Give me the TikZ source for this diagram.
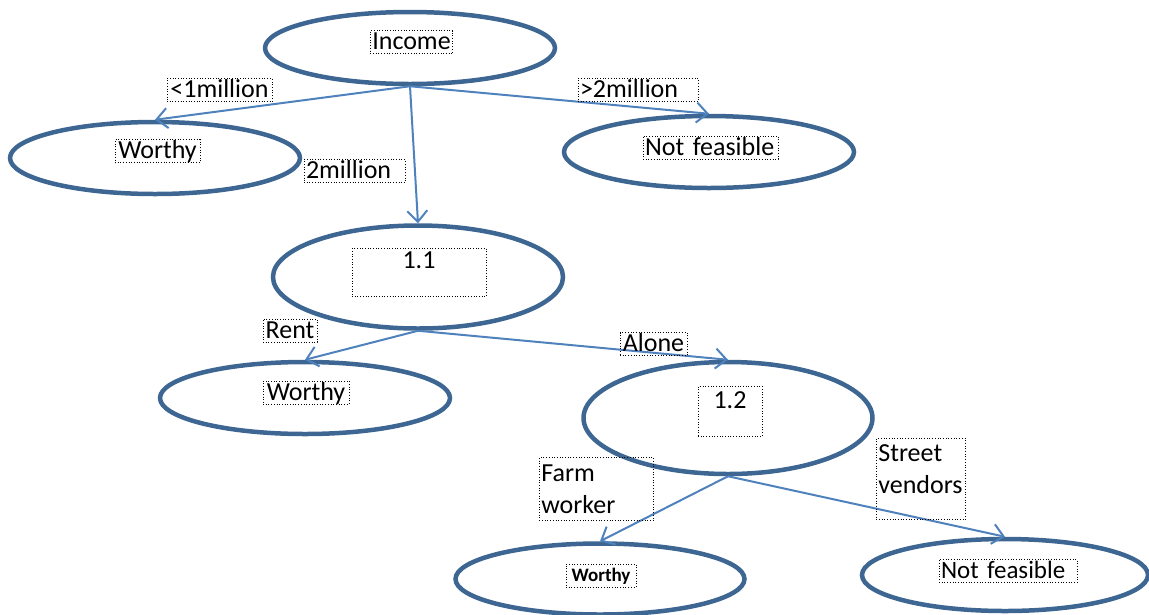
\documentclass[tikz,border=0pt]{standalone}
\usepackage{fontspec}
\setmainfont{Carlito}
\usetikzlibrary{shapes.geometric,arrows.meta}
\definecolor{ovalblue}{HTML}{3D6692}
\definecolor{edgeblue}{HTML}{4F81BD}

\begin{document}
\begin{tikzpicture}[x=1pt,y=-1pt]
  \tikzset{OvalStyle/.style   = {shape          = ellipse,
                                 draw           = ovalblue,
                                 line width     = 4.5pt,
                                 inner sep      = 0pt,
                                 minimum width  = 290pt,
                                 minimum height = 72pt}}
  \tikzset{EdgeStyle/.style   = {draw           = edgeblue,
                                 line width     = 2pt,
                                 -{Straight Barb[length=11pt,width=20pt]}}}
  \tikzset{LabelStyle/.style  = {draw,
                                 dotted,
                                 line width     = 0.7pt,
                                 inner sep      = 2pt,
                                 text height    = 17pt,
                                 text depth     = 2pt,
                                 font           = \fontsize{26}{32}\selectfont}}
  \tikzset{BlockStyle/.style  = {draw,
                                 dotted,
                                 line width     = 0.7pt,
                                 inner sep      = 2pt,
                                 align          = left,
                                 anchor         = north west,
                                 font           = \fontsize{26}{32}\selectfont}}

\useasboundingbox (0,0) rectangle (1149,614);

\coordinate (O1) at (410,48);
\coordinate (O2) at (155,158);
\coordinate (O3) at (709,152);
\coordinate (O4) at (418,277);
\coordinate (O5) at (305,398);
\coordinate (O6) at (728,418);
\coordinate (O7) at (600,579);
\coordinate (O8) at (1005,575);

\draw (O1)  node[OvalStyle] (Income) {};
\draw (O2)  node[OvalStyle] (WorthyA) {};
\draw (O3)  node[OvalStyle] (NotFeasibleA) {};
\draw (O4)  node[OvalStyle, minimum height=103pt] (Node11) {};
\draw (O5)  node[OvalStyle] (WorthyB) {};
\draw (O6)  node[OvalStyle, minimum width=289pt, minimum height=112pt] (Node12) {};
\draw (O7)  node[OvalStyle, minimum width=289pt, minimum height=71pt] (WorthyC) {};
\draw (O8)  node[OvalStyle, minimum width=286pt] (NotFeasibleB) {};

\draw[EdgeStyle] (Income.south) -- (WorthyA.north);
\draw[EdgeStyle] (Income.south) -- (NotFeasibleA.north);
\draw[EdgeStyle] (Income.south) -- (Node11.north);
\draw[EdgeStyle] (Node11.south) -- (WorthyB.north);
\draw[EdgeStyle] (Node11.south) -- (Node12.north);
\draw[EdgeStyle] (Node12.south) -- (WorthyC.north);
\draw[EdgeStyle] (Node12.south) -- (NotFeasibleB.north);

\node[LabelStyle, minimum width=81pt] (IncomeText) at (411.5,42) {Income};
\node[LabelStyle, minimum width=105pt] (LessOneText) at (219.5,90) {<1million};
\node[LabelStyle, text width=116pt, align=left] (MoreTwoText) at (638,90) {>2million};
\node[LabelStyle, text width=97pt, align=left] (TwoText) at (354.5,171) {2million};
\node[LabelStyle, minimum width=85pt] (WorthyAText) at (157.5,151) {Worthy};
\node[LabelStyle, text width=131pt, align=left] (NotFeasibleAText) at (710.5,147.5) {Not feasible};
\node[LabelStyle, text height=18pt, text depth=26pt, minimum width=134pt, anchor=north] (Node11Text) at (419,248) {1.1};
\node[LabelStyle, minimum width=54pt] (RentText) at (290,330.5) {Rent};
\node[LabelStyle, minimum width=67pt] (AloneText) at (653.5,344) {Alone};
\node[LabelStyle, minimum width=86pt] (WorthyBText) at (306,392.5) {Worthy};
\node[LabelStyle, text height=20pt, text depth=26pt, minimum width=64pt, anchor=north] (Node12Text) at (730,386) {1.2};
\node[BlockStyle, text width=110pt] (FarmText) at (539,457) {\rule{0pt}{22pt}Farm\\worker\rule[-5pt]{0pt}{5pt}};
\node[BlockStyle, text width=85pt] (StreetText) at (876,438) {\rule{0pt}{21pt}Street\\vendors\rule[-24pt]{0pt}{24pt}};
\node[LabelStyle, font=\fontsize{19}{23}\selectfont\bfseries, text height=15pt, text depth=4pt, minimum width=70pt] (WorthyCText) at (601,575.5) {Worthy};
\node[LabelStyle, font=\fontsize{25}{30}\selectfont, text width=134pt, align=left] (NotFeasibleBText) at (1008,571) {Not feasible};

\end{tikzpicture}
\end{document}
